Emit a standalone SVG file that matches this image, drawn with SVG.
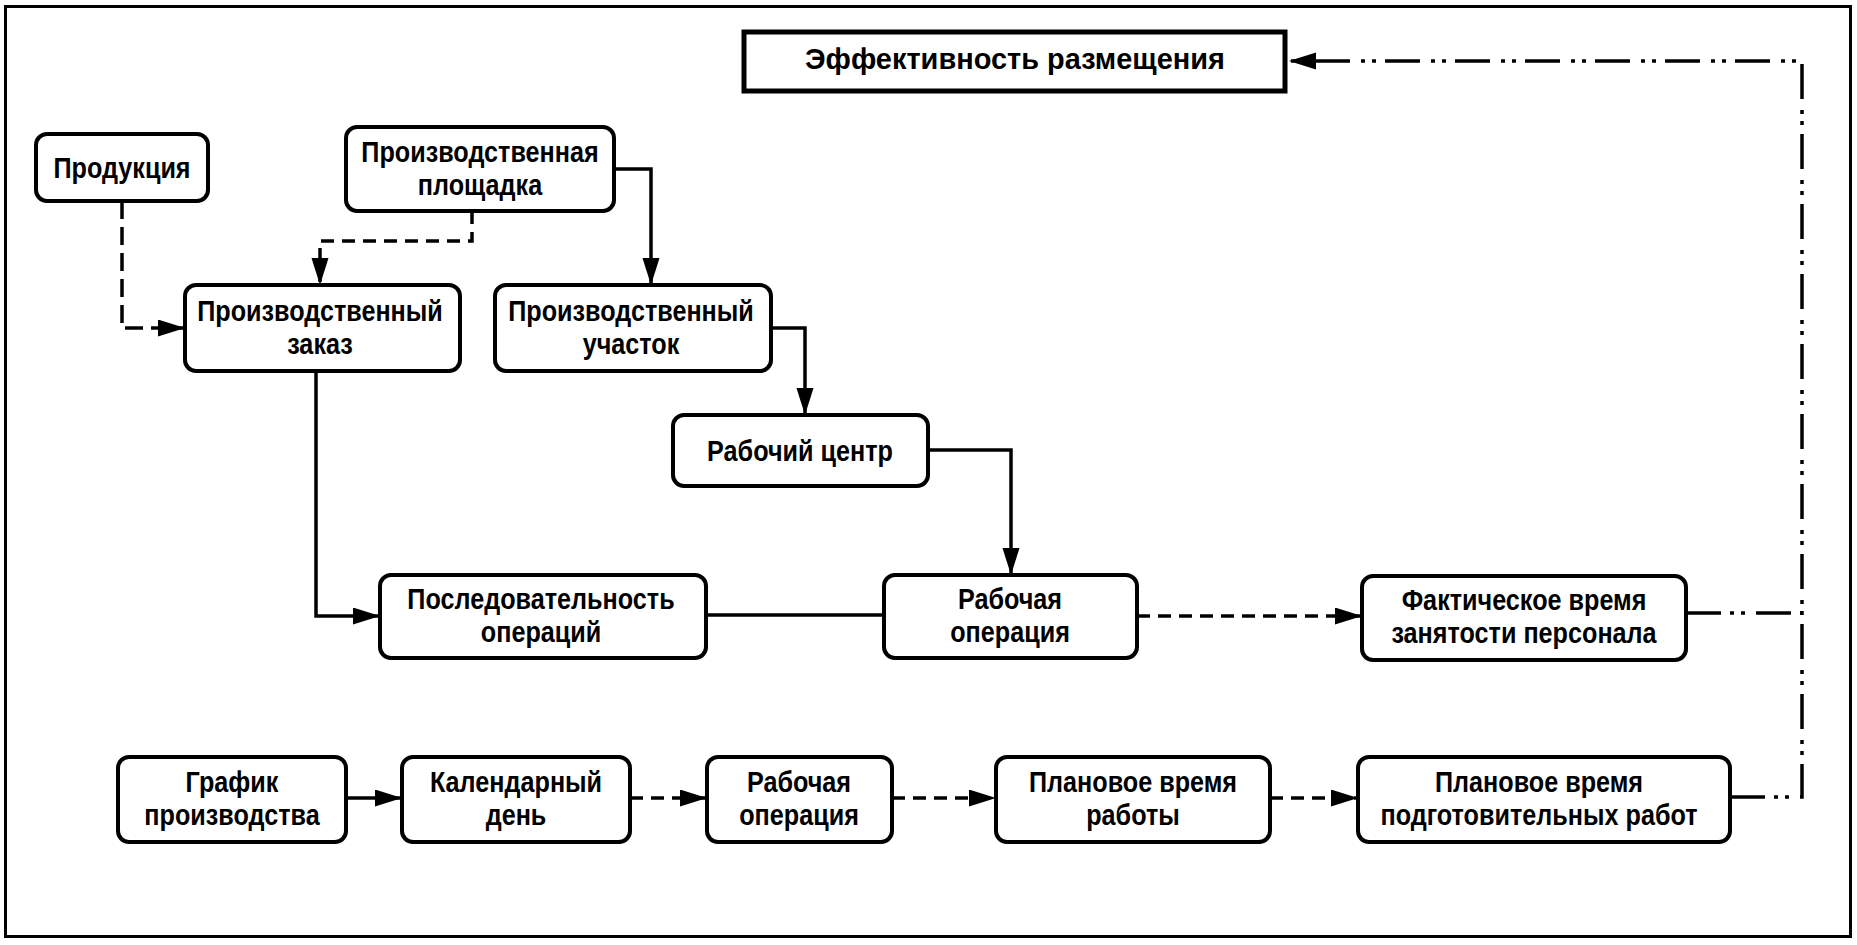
<svg xmlns="http://www.w3.org/2000/svg" width="1857" height="945" viewBox="0 0 1857 945">
<defs>
<style>
.node rect{fill:#fff;stroke:#000;stroke-width:4}
.title rect{fill:#fff;stroke:#000;stroke-width:5}
text{font-family:"Liberation Sans",Arial,sans-serif;font-weight:bold;font-size:30px;text-anchor:middle;fill:#000}
.c{fill:none;stroke:#000;stroke-width:3.5}
.d{stroke-dasharray:18 8}
.d2{stroke-dasharray:13 8}
.dd{stroke-dasharray:35 9 4 7 4 11}
</style>
<marker id="arr" markerUnits="userSpaceOnUse" markerWidth="28" markerHeight="18" refX="27" refY="8.5" orient="auto">
<path d="M0,0 L27,8.5 L0,17 z" fill="#000"/>
</marker>
</defs>
<rect x="0" y="0" width="1857" height="945" fill="#fff"/>
<rect x="5.5" y="6.5" width="1845" height="930" fill="none" stroke="#000" stroke-width="3"/>

<g id="connectors">
<path class="c d" d="M122,201 V328 H185" marker-end="url(#arr)"/>
<path class="c d2" d="M472,211 V241 H320 V285" marker-end="url(#arr)"/>
<path class="c" d="M614,169 H651 V285" marker-end="url(#arr)"/>
<path class="c" d="M771,328 H805 V415" marker-end="url(#arr)"/>
<path class="c" d="M928,450 H1011 V575" marker-end="url(#arr)"/>
<path class="c" d="M316,371 V616 H380" marker-end="url(#arr)"/>
<path class="c" d="M706,615 H884"/>
<path class="c d2" d="M1137,616 H1362" marker-end="url(#arr)"/>
<path class="c dd" d="M1686,613 H1802"/>
<path class="c dd" d="M1730,797 H1802 V61 H1289" marker-end="url(#arr)"/>
<path class="c" d="M346,798 H402" marker-end="url(#arr)"/>
<path class="c d2" d="M630,798 H707" marker-end="url(#arr)"/>
<path class="c d2" d="M892,798 H996" marker-end="url(#arr)"/>
<path class="c d2" d="M1270,798 H1358" marker-end="url(#arr)"/>
</g>

<g id="n-effect" class="title">
<rect x="744" y="32" width="541" height="59"/>
<text x="1015" y="69" font-size="31" textLength="420" lengthAdjust="spacingAndGlyphs">Эффективность размещения</text>
</g>
<g id="n-product" class="node">
<rect x="36" y="134" width="172" height="67" rx="11"/>
<text transform="matrix(0.84 0 0 1 122 0)" x="0" y="178">Продукция</text>
</g>
<g id="n-site" class="node">
<rect x="346" y="127" width="268" height="84" rx="11"/>
<text transform="matrix(0.84 0 0 1 480 0)" x="0" y="162">Производственная</text>
<text transform="matrix(0.84 0 0 1 480 0)" x="0" y="195">площадка</text>
</g>
<g id="n-order" class="node">
<rect x="185" y="285" width="275" height="86" rx="11"/>
<text transform="matrix(0.84 0 0 1 320 0)" x="0" y="321">Производственный</text>
<text transform="matrix(0.84 0 0 1 320 0)" x="0" y="354">заказ</text>
</g>
<g id="n-area" class="node">
<rect x="495" y="285" width="276" height="86" rx="11"/>
<text transform="matrix(0.84 0 0 1 631 0)" x="0" y="321">Производственный</text>
<text transform="matrix(0.84 0 0 1 631 0)" x="0" y="354">участок</text>
</g>
<g id="n-wc" class="node">
<rect x="673" y="415" width="255" height="71" rx="11"/>
<text transform="matrix(0.84 0 0 1 800 0)" x="0" y="461">Рабочий центр</text>
</g>
<g id="n-seq" class="node">
<rect x="380" y="575" width="326" height="83" rx="11"/>
<text transform="matrix(0.84 0 0 1 541 0)" x="0" y="609">Последовательность</text>
<text transform="matrix(0.84 0 0 1 541 0)" x="0" y="642">операций</text>
</g>
<g id="n-op" class="node">
<rect x="884" y="575" width="253" height="83" rx="11"/>
<text transform="matrix(0.84 0 0 1 1010 0)" x="0" y="609">Рабочая</text>
<text transform="matrix(0.84 0 0 1 1010 0)" x="0" y="642">операция</text>
</g>
<g id="n-fact" class="node">
<rect x="1362" y="576" width="324" height="84" rx="11"/>
<text transform="matrix(0.84 0 0 1 1524 0)" x="0" y="610">Фактическое время</text>
<text transform="matrix(0.84 0 0 1 1524 0)" x="0" y="643">занятости персонала</text>
</g>
<g id="n-sched" class="node">
<rect x="118" y="757" width="228" height="85" rx="11"/>
<text transform="matrix(0.84 0 0 1 232 0)" x="0" y="792">График</text>
<text transform="matrix(0.84 0 0 1 232 0)" x="0" y="825">производства</text>
</g>
<g id="n-day" class="node">
<rect x="402" y="757" width="228" height="85" rx="11"/>
<text transform="matrix(0.84 0 0 1 516 0)" x="0" y="792">Календарный</text>
<text transform="matrix(0.84 0 0 1 516 0)" x="0" y="825">день</text>
</g>
<g id="n-op2" class="node">
<rect x="707" y="757" width="185" height="85" rx="11"/>
<text transform="matrix(0.84 0 0 1 799 0)" x="0" y="792">Рабочая</text>
<text transform="matrix(0.84 0 0 1 799 0)" x="0" y="825">операция</text>
</g>
<g id="n-plan" class="node">
<rect x="996" y="757" width="274" height="85" rx="11"/>
<text transform="matrix(0.84 0 0 1 1133 0)" x="0" y="792">Плановое время</text>
<text transform="matrix(0.84 0 0 1 1133 0)" x="0" y="825">работы</text>
</g>
<g id="n-prep" class="node">
<rect x="1358" y="757" width="372" height="85" rx="11"/>
<text transform="matrix(0.84 0 0 1 1539 0)" x="0" y="792">Плановое время</text>
<text transform="matrix(0.84 0 0 1 1539 0)" x="0" y="825">подготовительных работ</text>
</g>
</svg>
